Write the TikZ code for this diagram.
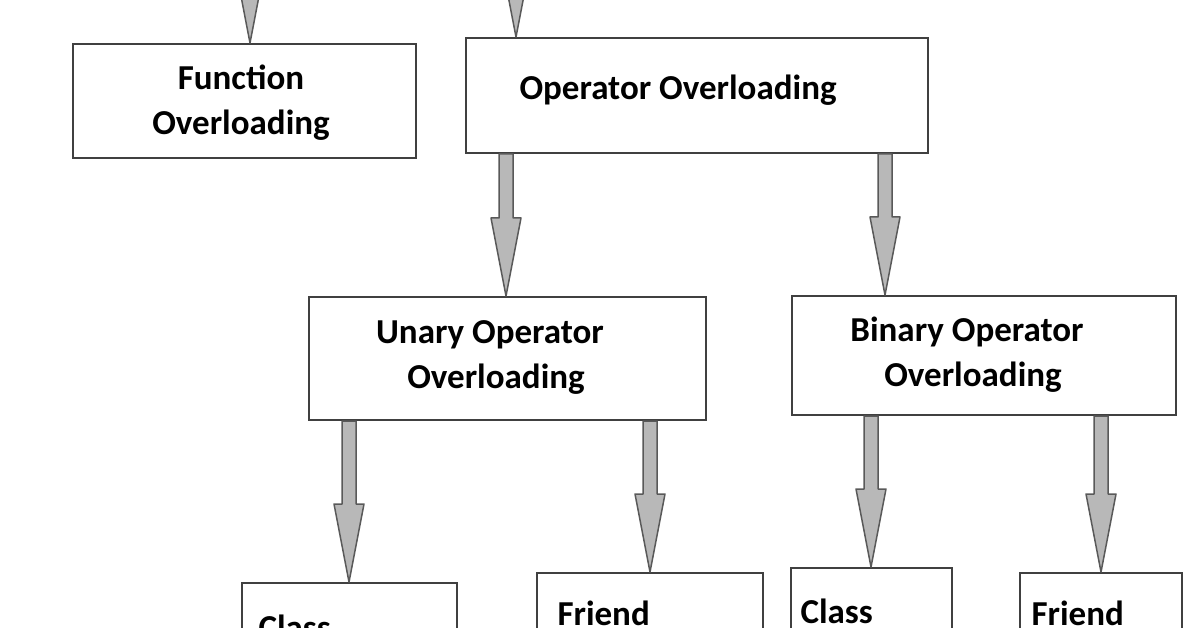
\documentclass[tikz,border=0pt]{standalone}
\usepackage{fontspec}
\setmainfont{Carlito}
\usetikzlibrary{calc}
\tikzset{
  txt/.style={font=\bfseries\fontsize{35}{45}\selectfont},
  box/.style={draw=black!75, line width=2pt, fill=white, inner sep=0pt, txt, align=center},
  fat/.style={fill=black!28, draw=black!65, line width=1.5pt, line join=round}
}
% fat arrow from coordinate #1 down to coordinate #2
\newcommand\fatarr[2]{%
  \fill[fat] let \p1=(#1), \p2=(#2) in
    (\x1-7,\y1) -- (\x1+7,\y1) -- (\x1+7,\y2+78) -- (\x1+15,\y2+78) -- (\x2,\y2)
    -- (\x1-15,\y2+78) -- (\x1-7,\y2+78) -- cycle;}
\begin{document}
\begin{tikzpicture}[x=1pt,y=-1pt]
\useasboundingbox (0,0) rectangle (1196,628);
\clip (0,0) rectangle (1196,628);
\node[box, minimum width=343, minimum height=114, anchor=north west] (fo) at (72,43) {};
\node[txt, align=center] (fot) at (241,103) {Function\\Overloading};
\node[box, minimum width=462, minimum height=115, anchor=north west] (oo) at (465,37) {};
\node[txt, anchor=west] (ool) at (516,90) {Operator Overloading};
\node[box, minimum width=397, minimum height=123, anchor=north west] (uo) at (308,296) {};
\node[txt, align=center] (uot) at (490,357) {Unary Operator\\\hspace*{12pt}Overloading};
\node[box, minimum width=384, minimum height=119, anchor=north west] (bo) at (791,295) {};
\node[txt, align=center] (bot) at (967,355) {Binary Operator\\\hspace*{12pt}Overloading};
\node[box, minimum width=215, minimum height=120, anchor=north west] (c1) at (241,582) {};
\node[box, minimum width=226, minimum height=120, anchor=north west] (f1) at (536,572) {};
\node[box, minimum width=161, minimum height=120, anchor=north west] (c2) at (790,567) {};
\node[box, minimum width=162, minimum height=120, anchor=north west] (f2) at (1019,572) {};
\node[txt, anchor=west] (c1t) at (255,627) {Class};
\node[txt, anchor=west] (f1t) at (554,613) {Friend};
\node[txt, anchor=west] (c2t) at (797,611) {Class};
\node[txt, anchor=west] (f2t) at (1028,613) {Friend};
% connector endpoints
\coordinate (t1) at (250,-40);
\coordinate (t2) at (516,-40);
\coordinate (a1) at ($(fo.north west)+(178,0)$);
\coordinate (a2) at ($(oo.north west)+(51,0)$);
\fatarr{t1}{a1}
\fatarr{t2}{a2}
\coordinate (s1) at ($(oo.south west)+(41,0)$);
\coordinate (e1) at ($(uo.north west)+(198,0)$);
\fatarr{s1}{e1}
\coordinate (s2) at ($(oo.south west)+(420,0)$);
\coordinate (e2) at ($(bo.north west)+(94,0)$);
\fatarr{s2}{e2}
\coordinate (s3) at ($(uo.south west)+(41,0)$);
\coordinate (e3) at ($(c1.north west)+(108,0)$);
\fatarr{s3}{e3}
\coordinate (s4) at ($(uo.south west)+(342,0)$);
\coordinate (e4) at ($(f1.north west)+(114,0)$);
\fatarr{s4}{e4}
\coordinate (s5) at ($(bo.south west)+(80,0)$);
\coordinate (e5) at ($(c2.north west)+(81,0)$);
\fatarr{s5}{e5}
\coordinate (s6) at ($(bo.south west)+(310,0)$);
\coordinate (e6) at ($(f2.north west)+(82,0)$);
\fatarr{s6}{e6}
\end{tikzpicture}
\end{document}
